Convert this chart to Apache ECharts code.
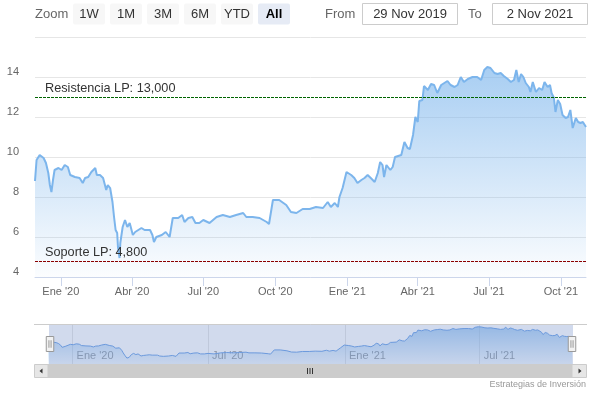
<!DOCTYPE html>
<html>
<head>
<meta charset="utf-8">
<script src="https://cdn.jsdelivr.net/npm/echarts@6/dist/echarts.min.js"></script>
<style>
html,body{margin:0;padding:0;background:#fff;}
#chart{width:595px;height:395px;}
</style>
</head>
<body>
<div id="chart"></div>
<script>
// ---- data ----
const fechas = [
'2019-11-29','2019-12-01','2019-12-05','2019-12-10','2019-12-13','2019-12-16','2019-12-18','2019-12-20','2019-12-22','2019-12-24','2019-12-29',
'2020-01-02','2020-01-06','2020-01-10','2020-01-13','2020-01-19','2020-01-25','2020-01-29',
'2020-02-01','2020-02-05','2020-02-09','2020-02-14','2020-02-16','2020-02-20','2020-02-24','2020-02-28',
'2020-03-01','2020-03-04','2020-03-07','2020-03-09','2020-03-11','2020-03-13','2020-03-14','2020-03-16','2020-03-17','2020-03-20','2020-03-23','2020-03-26','2020-03-29',
'2020-04-02','2020-04-05','2020-04-09','2020-04-13','2020-04-17','2020-04-24','2020-04-27','2020-04-29',
'2020-05-02','2020-05-09','2020-05-14','2020-05-19','2020-05-23','2020-05-30',
'2020-06-04','2020-06-07','2020-06-12','2020-06-17','2020-06-21','2020-06-26',
'2020-07-01','2020-07-09','2020-07-18','2020-07-26',
'2020-08-04','2020-08-12','2020-08-21','2020-08-25',
'2020-09-02','2020-09-11','2020-09-20','2020-09-23','2020-09-28',
'2020-10-06','2020-10-15','2020-10-21','2020-10-28',
'2020-11-05','2020-11-14','2020-11-22',
'2020-12-01','2020-12-07','2020-12-11','2020-12-16','2020-12-20','2020-12-22','2020-12-26','2020-12-31',
'2021-01-02','2021-01-06','2021-01-10','2021-01-14','2021-01-19','2021-01-23','2021-01-27','2021-01-31',
'2021-02-05','2021-02-09','2021-02-12','2021-02-15','2021-02-17','2021-02-20','2021-02-25','2021-02-28',
'2021-03-03','2021-03-11','2021-03-15','2021-03-19','2021-03-22','2021-03-26','2021-03-29',
'2021-04-01','2021-04-03','2021-04-07','2021-04-09','2021-04-14','2021-04-18','2021-04-22','2021-04-24','2021-04-26',
'2021-05-01','2021-05-05','2021-05-09','2021-05-13','2021-05-18','2021-05-22','2021-05-26','2021-05-30',
'2021-06-04','2021-06-10','2021-06-16','2021-06-21','2021-06-25','2021-06-29',
'2021-07-03','2021-07-08','2021-07-12','2021-07-16','2021-07-20','2021-07-25','2021-07-29',
'2021-08-02','2021-08-05','2021-08-08','2021-08-11','2021-08-14','2021-08-17','2021-08-21','2021-08-23','2021-08-26','2021-08-30',
'2021-09-03','2021-09-07','2021-09-10','2021-09-14','2021-09-17','2021-09-19','2021-09-22','2021-09-24','2021-09-27','2021-09-30',
'2021-10-03','2021-10-07','2021-10-10','2021-10-13','2021-10-16','2021-10-20','2021-10-23','2021-10-26','2021-10-29',
'2021-11-02'
];
const precios = [
8.8,9.85,10.1,9.95,9.7,9.2,8.6,8.25,8.85,9.35,9.45,
9.35,9.6,9.5,9.1,9.0,8.95,8.7,
8.95,9.0,9.25,9.45,9.1,9.1,8.95,8.35,
8.6,8.45,7.75,7.0,6.35,6.2,5.5,4.95,5.7,6.5,6.85,6.5,6.7,
6.1,6.25,6.35,6.45,6.35,6.35,6.1,5.75,
6.0,6.1,6.25,6.0,6.95,6.95,
7.1,6.75,6.95,7.0,6.7,6.7,
6.85,6.7,7.0,7.1,
7.0,7.1,7.2,7.0,
7.0,6.95,6.75,6.65,7.85,
7.85,7.6,7.25,7.2,
7.4,7.4,7.5,
7.45,7.75,7.5,7.7,7.5,8.0,8.45,9.25,
9.35,9.1,8.95,8.7,8.85,8.95,9.1,8.95,
8.75,9.2,9.75,9.6,9.0,9.6,9.35,9.5,
10.0,10.1,10.75,10.45,10.4,11.1,12.0,
11.75,12.8,12.85,13.55,13.35,13.65,13.6,13.7,13.2,
13.6,13.7,13.8,13.6,13.5,13.6,14.0,13.75,
13.9,14.0,14.0,13.85,14.35,14.5,
14.45,14.2,14.15,14.2,14.05,13.9,13.75,
13.85,14.35,13.75,14.15,14.0,13.7,13.5,13.25,13.75,13.25,
13.45,13.35,13.75,13.5,13.6,13.2,12.95,12.25,12.85,12.65,
12.1,11.95,12.0,12.35,11.45,11.95,11.75,11.7,11.75,
11.5
];
const resistenciaLP = 13.0;
const soporteLP = 4.8;
const ticksEjeX = ['2020-01-01','2020-04-01','2020-07-01','2020-10-01','2021-01-01','2021-04-01','2021-07-01','2021-10-01'];
const ticksNavegador = ['2020-01-01','2020-07-01','2021-01-01','2021-07-01'];
const mesesAbrev = ['Ene','Feb','Mar','Abr','May','Jun','Jul','Ago','Sep','Oct','Nov','Dic'];
const mesesIngles = ['Jan','Feb','Mar','Apr','May','Jun','Jul','Aug','Sep','Oct','Nov','Dec'];
const botonesZoom = ['1W','1M','3M','6M','YTD','All'];
const botonSeleccionado = 'All';
const yTicks = [4, 6, 8, 10, 12, 14, 16];
const creditos = 'Estrategias de Inversión';

// ---- helpers ----
function ts(s) { const p = s.split('-').map(Number); return new Date(p[0], p[1] - 1, p[2]).getTime(); }
const serie = fechas.map((f, i) => [ts(f), precios[i]]);
const xMin = ts(fechas[0]), xMax = ts(fechas[fechas.length - 1]);
function etiquetaMes(v) {
  const d = new Date(v);
  return mesesAbrev[d.getMonth()] + " '" + String(d.getFullYear()).slice(2);
}
function fechaLarga(s) {
  const p = s.split('-');
  return parseInt(p[2], 10) + ' ' + mesesIngles[parseInt(p[1], 10) - 1] + ' ' + p[0];
}
function fmtNivel(v) { return v.toFixed(3).replace('.', ','); }

const FONT = '"Liberation Sans", Arial, sans-serif';

// ---- toolbar & scrollbar chrome ----
const graphic = [];
graphic.push({type:'text', x:35, y:14.5, style:{text:'Zoom', fill:'#666', font:'13px ' + FONT, textVerticalAlign:'middle'}});
botonesZoom.forEach((b, i) => {
  const sel = b === botonSeleccionado;
  const x = 73 + 37 * i;
  graphic.push({type:'rect', shape:{x:x, y:3.5, width:32, height:21, r:2},
    style:{fill: sel ? '#e6ebf5' : '#f7f7f7'}});
  graphic.push({type:'text', x:x + 16, y:14.5,
    style:{text:b, fill: sel ? '#000' : '#333', font:(sel ? 'bold ' : '') + '13px ' + FONT,
    textAlign:'center', textVerticalAlign:'middle'}});
});
graphic.push({type:'text', x:325, y:14.5, style:{text:'From', fill:'#666', font:'13px ' + FONT, textVerticalAlign:'middle'}});
graphic.push({type:'rect', shape:{x:362.5, y:3.5, width:95, height:21}, style:{fill:'#fff', stroke:'#ccc', lineWidth:1}});
graphic.push({type:'text', x:410, y:14.5, style:{text:fechaLarga(fechas[0]), fill:'#333', font:'13px ' + FONT, textAlign:'center', textVerticalAlign:'middle'}});
graphic.push({type:'text', x:468, y:14.5, style:{text:'To', fill:'#666', font:'13px ' + FONT, textVerticalAlign:'middle'}});
graphic.push({type:'rect', shape:{x:492.5, y:3.5, width:95, height:21}, style:{fill:'#fff', stroke:'#ccc', lineWidth:1}});
graphic.push({type:'text', x:540, y:14.5, style:{text:fechaLarga(fechas[fechas.length-1]), fill:'#333', font:'13px ' + FONT, textAlign:'center', textVerticalAlign:'middle'}});

// navigator outline
graphic.push({type:'line', shape:{x1:34, y1:324.5, x2:587, y2:324.5}, style:{stroke:'#ccc', lineWidth:1}, z:10});
// scrollbar
graphic.push({type:'rect', shape:{x:48, y:364, width:524, height:14}, style:{fill:'#cccccc'}});
graphic.push({type:'rect', shape:{x:34.5, y:364.5, width:13.5, height:13}, style:{fill:'#e6e6e6', stroke:'#ccc', lineWidth:1}});
graphic.push({type:'rect', shape:{x:572, y:364.5, width:14.5, height:13}, style:{fill:'#e6e6e6', stroke:'#ccc', lineWidth:1}});
graphic.push({type:'polygon', shape:{points:[[39.5,371],[42.5,368.5],[42.5,373.5]]}, style:{fill:'#333'}});
graphic.push({type:'polygon', shape:{points:[[581.5,371],[578.5,368.5],[578.5,373.5]]}, style:{fill:'#333'}});
[307.5, 310, 312.5].forEach(x => graphic.push({type:'line', shape:{x1:x, y1:368, x2:x, y2:374}, style:{stroke:'#333', lineWidth:1}}));
// credits
graphic.push({type:'text', x:586, y:385, style:{text:creditos, fill:'#999', font:'9px ' + FONT, textAlign:'right', textVerticalAlign:'middle'}});

const chart = echarts.init(document.getElementById('chart'), null, {renderer:'canvas'});
chart.setOption({
  animation: false,
  backgroundColor: '#fff',
  textStyle: {fontFamily: FONT},
  graphic: graphic,
  grid: [
    {left:35, right:9, top:37, bottom:118, containLabel:false},
    {left:48, right:23, top:324, height:40, containLabel:false}
  ],
  xAxis: [
    {
      type:'value', gridIndex:0, min:xMin, max:xMax, scale:true,
      axisLine:{show:true, lineStyle:{color:'#ccd6eb', width:1}},
      axisTick:{show:true, length:9, lineStyle:{color:'#ccd6eb'}, customValues: ticksEjeX.map(ts)},
      splitLine:{show:false},
      axisLabel:{formatter: etiquetaMes, customValues: ticksEjeX.map(ts), color:'#666', fontSize:11, margin:9, fontFamily:FONT, hideOverlap:false}
    },
    {
      type:'value', gridIndex:1, min:xMin, max:xMax, scale:true,
      axisLine:{show:false},
      axisTick:{show:false, customValues: ticksNavegador.map(ts)},
      splitLine:{show:true, lineStyle:{color:'#e6e6e6'}},
      axisLabel:{formatter: etiquetaMes, customValues: ticksNavegador.map(ts), inside:true, color:'#999', fontSize:11, align:'left', padding:[0,0,0,4], margin:3, fontFamily:FONT}
    }
  ],
  yAxis: [
    {
      type:'value', gridIndex:0, min:yTicks[0], max:yTicks[yTicks.length-1], interval:2,
      axisLine:{show:false}, axisTick:{show:false},
      splitLine:{lineStyle:{color:'#e6e6e6'}},
      axisLabel:{formatter: v => (v === yTicks[yTicks.length-1] ? '' : String(v)), color:'#666', fontSize:11, margin:16,
        verticalAlign:'bottom', lineHeight:11, fontFamily:FONT}
    },
    {type:'value', gridIndex:1, min:3.8, max:15.3, show:false, splitLine:{show:false}}
  ],
  dataZoom: [{
    type:'slider', xAxisIndex:0, start:0, end:100,
    left:48, right:23, top:324, height:40,
    showDataShadow:false, showDetail:false, brushSelect:false, moveHandleSize:0,
    backgroundColor:'rgba(0,0,0,0)', borderColor:'rgba(0,0,0,0)',
    fillerColor:'rgba(102,133,194,0.3)',
    handleIcon:'path://M0.5,0.5L7.5,0.5L7.5,14.5L0.5,14.5Z M3,4L3,11 M5,4L5,11',
    handleSize:15,
    handleStyle:{color:'#f2f2f2', borderColor:'#999', borderWidth:1, shadowBlur:0, opacity:1},
    emphasis:{handleStyle:{color:'#f2f2f2', borderColor:'#999', borderWidth:1, shadowBlur:0}},
    textStyle:{color:'transparent'}
  }],
  series: [
    {
      type:'line', xAxisIndex:0, yAxisIndex:0, data:serie,
      showSymbol:false, symbol:'none',
      lineStyle:{color:'#7cb5ec', width:2},
      itemStyle:{color:'#7cb5ec'},
      areaStyle:{color: new echarts.graphic.LinearGradient(0,0,0,1,[
        {offset:0, color:'rgba(124,181,236,0.95)'},
        {offset:1, color:'rgba(124,181,236,0.04)'}
      ])},
      markLine:{
        silent:true, symbol:['none','none'], animation:false,
        data:[
          {yAxis:resistenciaLP, lineStyle:{color:'#006400', type:[3,1], width:1},
           label:{formatter: p => 'Resistencia LP: ' + fmtNivel(p.value)}},
          {yAxis:soporteLP, lineStyle:{color:'#8b0000', type:[3,1], width:1},
           label:{formatter: p => 'Soporte LP: ' + fmtNivel(p.value)}}
        ],
        label:{show:true, position:'insideStartTop', distance:[10,2], color:'#333', fontSize:12.7, fontFamily:FONT}
      }
    },
    {
      type:'line', xAxisIndex:1, yAxisIndex:1, data:serie,
      showSymbol:false, symbol:'none', silent:true,
      lineStyle:{color:'#6ea3e8', width:1},
      areaStyle:{color: new echarts.graphic.LinearGradient(0,0,0,1,[
        {offset:0, color:'rgba(124,181,236,0.9)'},
        {offset:1, color:'rgba(124,181,236,0.15)'}
      ])}
    }
  ]
});
</script>
</body>
</html>
